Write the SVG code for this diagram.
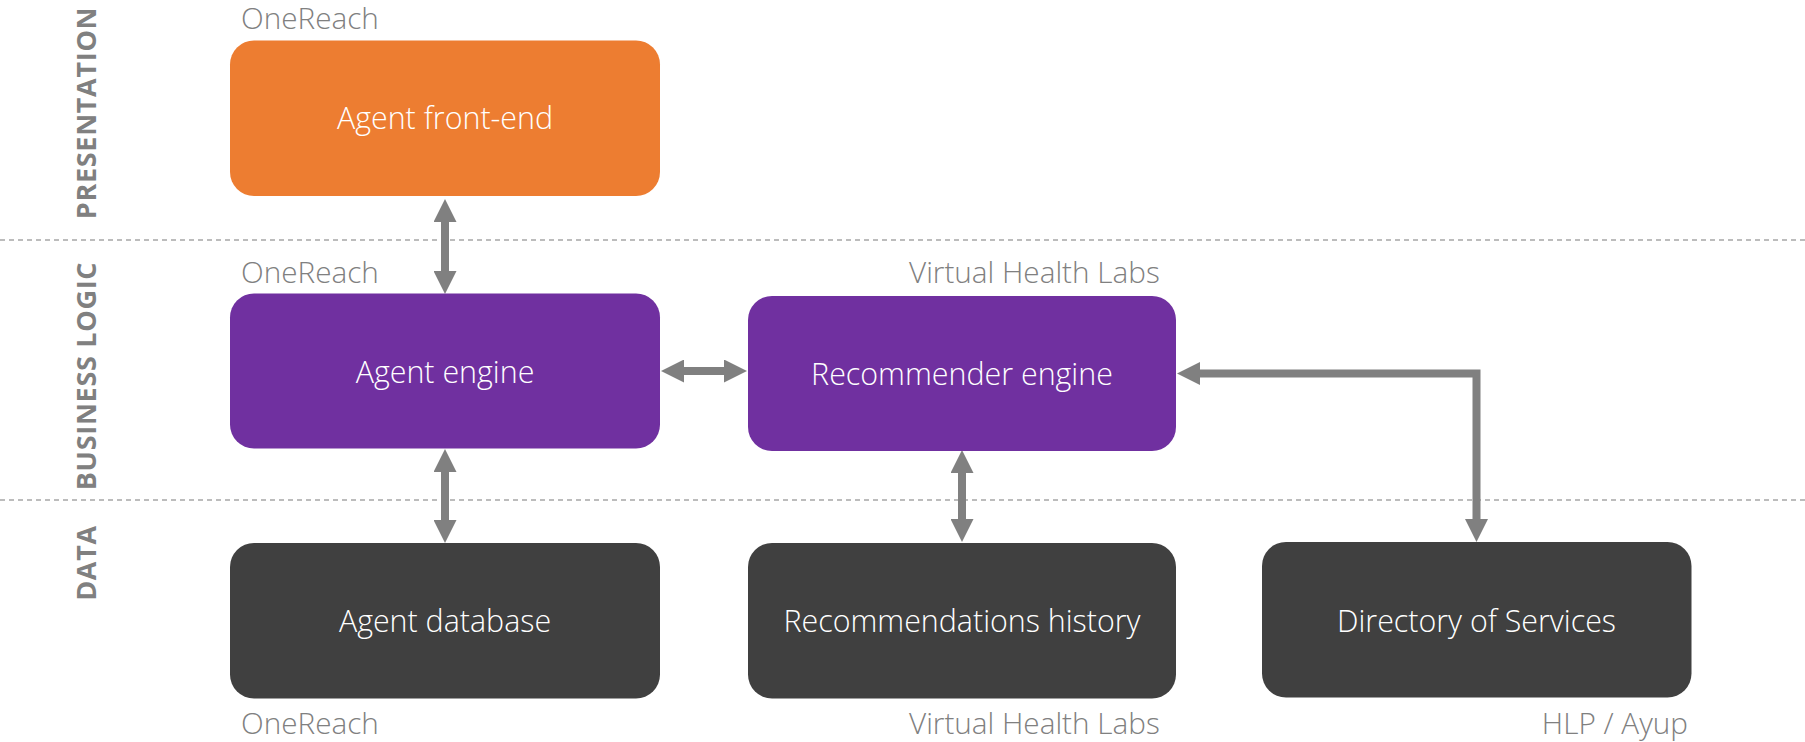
<svg xmlns="http://www.w3.org/2000/svg" width="1805" height="742" viewBox="0 0 1805 742">
<defs>
<style>
.bg{fill:#ffffff}
.sep{stroke:#a6a6a6;stroke-width:1.5;stroke-dasharray:5 4;fill:none}
.lane{font-family:"Open Sans","Noto Sans",sans-serif;font-weight:700;font-size:27px;fill:#808080;letter-spacing:0.7px}
.owner{font-family:"Open Sans","Noto Sans",sans-serif;font-weight:300;font-size:29.7px;fill:#808080}
.label{font-family:"Open Sans","Noto Sans",sans-serif;font-weight:300;font-size:30.4px;fill:#ffffff;text-anchor:middle}
.orange{fill:#ED7D31}
.purple{fill:#7030A0}
.dark{fill:#404040}
.conn{stroke:#808080;stroke-width:8;fill:none;stroke-linejoin:miter;marker-start:url(#head);marker-end:url(#head)}
</style>
<marker id="head" viewBox="0 0 23 23" refX="11" refY="11.5" markerWidth="23" markerHeight="23" markerUnits="userSpaceOnUse" orient="auto-start-reverse">
<path d="M0,0 L23,11.5 L0,23 Z" fill="#808080"/>
</marker>
</defs>
<rect class="bg" x="0" y="0" width="1805" height="742"/>
<g id="separators">
<line class="sep" x1="0" y1="240" x2="1805" y2="240"/>
<line class="sep" x1="0" y1="500" x2="1805" y2="500"/>
</g>
<g id="lanes">
<text class="lane" text-anchor="middle" x="96" y="113" transform="rotate(-90 96 113)">PRESENTATION</text>
<text class="lane" text-anchor="middle" x="96" y="376" transform="rotate(-90 96 376)">BUSINESS LOGIC</text>
<text class="lane" text-anchor="middle" x="96" y="563" transform="rotate(-90 96 563)">DATA</text>
</g>
<g id="connectors">
<path class="conn" d="M445,211 V282"/>
<path class="conn" d="M445,461 V531"/>
<path class="conn" d="M673,371 H735"/>
<path class="conn" d="M962,462 V530"/>
<path class="conn" d="M1189,373.5 H1476.5 V530"/>
</g>
<g id="agent-front-end">
<text class="owner" x="241" y="29">OneReach</text>
<rect class="orange" x="230" y="40.5" width="430" height="155.5" rx="24"/>
<text class="label" x="445" y="128.5">Agent front-end</text>
</g>
<g id="agent-engine">
<text class="owner" x="241" y="283">OneReach</text>
<rect class="purple" x="230" y="293.5" width="430" height="155" rx="24"/>
<text class="label" x="445" y="382.5">Agent engine</text>
</g>
<g id="recommender-engine">
<text class="owner" x="909" y="283">Virtual Health Labs</text>
<rect class="purple" x="748" y="296" width="428" height="155" rx="24"/>
<text class="label" x="962" y="384.5">Recommender engine</text>
</g>
<g id="agent-database">
<rect class="dark" x="230" y="543" width="430" height="155.5" rx="24"/>
<text class="label" x="445" y="631.5">Agent database</text>
<text class="owner" x="241" y="734">OneReach</text>
</g>
<g id="recommendations-history">
<rect class="dark" x="748" y="543" width="428" height="155.5" rx="24"/>
<text class="label" x="962" y="631.5">Recommendations history</text>
<text class="owner" x="909" y="734">Virtual Health Labs</text>
</g>
<g id="directory-of-services">
<rect class="dark" x="1262" y="542" width="429.5" height="155.5" rx="24"/>
<text class="label" x="1476.5" y="631.5">Directory of Services</text>
<text class="owner" x="1688" y="734" text-anchor="end">HLP / Ayup</text>
</g>
</svg>
